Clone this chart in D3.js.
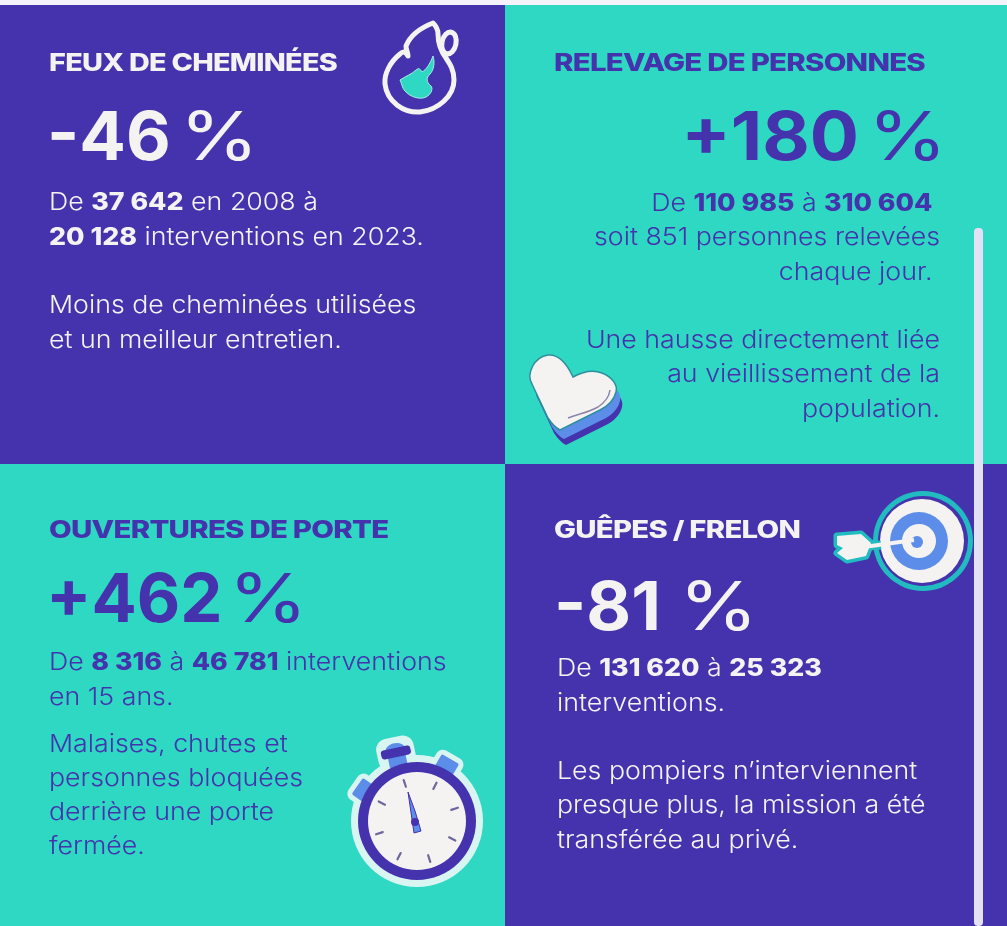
<!DOCTYPE html>
<html>
<head>
<meta charset="utf-8">
<script src="https://cdn.jsdelivr.net/npm/d3@7"></script>
<style>
  html, body { margin: 0; padding: 0; background: #f4f2fb; overflow: hidden; }
  svg { display: block; }
  text { font-family: Inter, "Open Sans", sans-serif; }
</style>
</head>
<body>
<div id="chart"></div>
<script>
const titles = ["FEUX DE CHEMINÉES", "RELEVAGE DE PERSONNES", "OUVERTURES DE PORTE", "GUÊPES / FRELON"];
const changes = [-46, 180, 462, -81];
// **x** = bold
const bodyLines = [
  ["De **37 642** en 2008 à", "**20 128** interventions en 2023.", "", "Moins de cheminées utilisées", "et un meilleur entretien."],
  ["De **110 985** à **310 604**\u00a0", "soit 851 personnes relevées", "chaque jour.\u00a0", "", "Une hausse directement liée", "au vieillissement de la", "population."],
  ["De **8 316** à **46 781** interventions", "en 15 ans.", "Malaises, chutes et", "personnes bloquées", "derrière une porte", "fermée."],
  ["De **131 620** à **25 323**", "interventions.", "", "Les pompiers n’interviennent", "presque plus, la mission a été", "transférée au privé."]
];

const purple = "#4531ad", teal = "#2fd8c3", paper = "#f5f3f2", blue = "#5b8de8", ring = "#22bcc0";
const width = 1007, height = 926;
const bodyScale = 1.115, pctScale = 1.2;

const svg = d3.select("#chart").append("svg")
  .attr("width", width).attr("height", height)
  .attr("viewBox", `0 0 ${width} ${height}`);

const defs = svg.append("defs");
defs.append("filter").attr("id", "soft").append("feGaussianBlur").attr("stdDeviation", 0.45);

const root = svg.append("g").attr("filter", "url(#soft)");

const layout = [
  {col: 0, row: 0, bg: purple, fg: paper, anchor: "start", x: 49, pctX: 47, gap: 9, numScale: 1.03, titleScale: 1.2, titleX: 49, titleY: 71, pctY: 160, bodyY: [210, 245, 279, 313, 348]},
  {col: 1, row: 0, bg: teal, fg: purple, anchor: "end", x: 940, pctX: 947, gap: 9, numScale: 1.09, titleScale: 1.225, titleX: 554, titleY: 71, pctY: 160, bodyY: [211, 245, 280, 314, 348, 382, 417]},
  {col: 0, row: 1, bg: teal, fg: purple, anchor: "start", x: 49, pctX: 46, gap: 6, numScale: 1.0, titleScale: 1.225, titleX: 49, titleY: 538, pctY: 622, bodyY: [670, 705, 752, 786, 820, 854]},
  {col: 1, row: 1, bg: purple, fg: paper, anchor: "start", x: 557, pctX: 554, gap: 18, numScale: 1.03, titleScale: 1.22, titleX: 554, titleY: 538, pctY: 630, bodyY: [676, 711, 745, 779, 813, 848]}
];

const xEdge = d3.scaleOrdinal().domain([0, 1, 2]).range([0, 505, width]);
const yEdge = d3.scaleOrdinal().domain([0, 1, 2]).range([5, 464, height]);

root.selectAll("rect.panel").data(layout).join("rect")
  .attr("class", "panel")
  .attr("x", d => xEdge(d.col)).attr("y", d => yEdge(d.row))
  .attr("width", d => xEdge(d.col + 1) - xEdge(d.col))
  .attr("height", d => yEdge(d.row + 1) - yEdge(d.row))
  .attr("fill", d => d.bg);

const fmtPct = v => (v < 0 ? "-" : "+") + Math.abs(v);

layout.forEach((p, i) => {
  const g = root.append("g");
  g.append("text").text(titles[i])
    .attr("transform", `translate(${p.titleX},${p.titleY}) scale(${p.titleScale},1)`)
    .attr("fill", p.fg)
    .style("font-size", "24px").style("font-weight", 800).style("letter-spacing", "-0.6px");

  // number and % are separate so the % can be stretched on its own
  const num = g.append("text").text(fmtPct(changes[i]))
    .attr("fill", p.fg).style("font-size", "67px").style("font-weight", 700);
  const sign = g.append("text").text("%")
    .attr("fill", p.fg).style("font-size", "67px").style("font-weight", 400);
  const numW = num.node().getComputedTextLength() * p.numScale;
  const signW = sign.node().getComputedTextLength() * pctScale;
  const left = p.anchor === "end" ? p.pctX - numW - p.gap - signW : p.pctX;
  num.attr("transform", `translate(${left},${p.pctY}) scale(${p.numScale},1)`);
  sign.attr("transform", `translate(${left + numW + p.gap},${p.pctY}) scale(${pctScale},1)`);

  bodyLines[i].forEach((line, j) => {
    if (!line) return;
    const t = g.append("text")
      .attr("transform", `translate(${p.x},${p.bodyY[j]}) scale(${bodyScale},1)`)
      .attr("text-anchor", p.anchor).attr("fill", p.fg)
      .style("font-size", "24px");
    line.split("**").forEach((part, k) => {
      t.append("tspan").text(part).style("font-weight", k % 2 ? 800 : 300);
    });
  });
});

// flame
const flame = root.append("g").attr("transform", "translate(370,0)");
flame.append("path")
  .attr("d", "M63 23 C50 28 40 36 36 46 C36 50 38 52 38 56 C35 51 33 51 30 54 C20 62 14 74 15 84 C17 102 34 113 50 112 C68 110 84 96 84 80 C84 70 80 64 76 58 C70 50 68 40 68 34 C68 30 66 26 63 23 Z")
  .attr("fill", "none").attr("stroke", paper).attr("stroke-width", 5).attr("stroke-linejoin", "round");
flame.append("ellipse").attr("cx", 79).attr("cy", 43).attr("rx", 7).attr("ry", 11)
  .attr("transform", "rotate(12 79 43)")
  .attr("fill", "none").attr("stroke", paper).attr("stroke-width", 5);
flame.append("path")
  .attr("d", "M63 56 C60 64 56 70 52 72 C50 68 48 68 46 70 C42 74 36 76 30 80 C32 84 32 88 35 91 C40 97 50 100 56 97 C62 94 63 88 61 86 C56 82 56 78 60 74 C64 70 65 62 63 56 Z")
  .attr("fill", teal).attr("stroke", "#a9ece6").attr("stroke-width", 1);

// heart
const heart = root.append("g").attr("transform", "translate(510,340)");
const heartPath = "M22 44 C16 34 24 17 38 15 C50 14 58 26 63 37 C72 32 82 29 92 33 C102 37 108 45 106 52 C104 60 98 66 90 70 L50 90 C46 88 42 84 38 78 Z";
heart.append("path").attr("d", heartPath).attr("transform", "translate(6,15)").attr("fill", purple);
heart.append("path").attr("d", heartPath).attr("transform", "translate(4,9)").attr("fill", blue);
heart.append("path").attr("d", heartPath)
  .attr("fill", paper).attr("stroke", "#2f8f9c").attr("stroke-width", 1.5);
heart.append("path").attr("d", "M58 78 C68 74 80 72 88 67 C94 63 99 58 100 50")
  .attr("fill", "none").attr("stroke", "#8c86a8").attr("stroke-width", 1.5);

// target
const target = root.append("g").attr("transform", "translate(819,480)");
[[104, 61, 50, ring], [104, 61, 45, purple], [103, 61, 42, paper], [100, 61, 29, blue], [100, 61, 17, paper], [98, 62, 6, blue]].forEach(([x, y, r, c]) => {
  target.append("circle").attr("cx", x).attr("cy", y).attr("r", r).attr("fill", c);
});
const fletch = "M18 56 L42 54 L52 63 L47 76 L28 80 L18 73 L24 68 L18 65 Z";
target.append("path").attr("d", fletch)
  .attr("fill", ring).attr("stroke", ring).attr("stroke-width", 7).attr("stroke-linejoin", "round");
target.append("line").attr("x1", 50).attr("y1", 66).attr("x2", 62).attr("y2", 65)
  .attr("stroke", ring).attr("stroke-width", 9);
target.append("path").attr("d", fletch).attr("fill", paper);
target.append("line").attr("x1", 45).attr("y1", 67).attr("x2", 95).attr("y2", 60)
  .attr("stroke", paper).attr("stroke-width", 4);

// stopwatch
const watch = root.append("g").attr("transform", "translate(417,821)");
watch.append("circle").attr("r", 66).attr("fill", "#d9f5f2");
const button = (g, x, y, a, fill, pad) => g.append("rect")
  .attr("x", -10 - pad).attr("y", -7 - pad).attr("width", 20 + 2 * pad).attr("height", 14 + 2 * pad).attr("rx", 2 + pad)
  .attr("transform", `translate(${x},${y}) rotate(${a})`).attr("fill", fill);
button(watch, -54, -31, -55, "#d9f5f2", 5);
button(watch, 30, -56, 30, "#d9f5f2", 5);
button(watch, -21, -68, -12, "#d9f5f2", 9);
button(watch, -54, -31, -55, blue, 0);
button(watch, 30, -56, 30, blue, 0);
watch.append("g").attr("transform", "translate(-21,-68) rotate(-12)").call(c => {
  c.append("rect").attr("x", -9).attr("y", 2).attr("width", 18).attr("height", 12).attr("fill", blue);
  c.append("path").attr("d", "M-10 -4 C-8 -12 8 -12 10 -4 Z").attr("fill", blue);
  c.append("rect").attr("x", -15).attr("y", -5).attr("width", 30).attr("height", 9).attr("rx", 3).attr("fill", purple);
});
watch.append("circle").attr("r", 59).attr("fill", purple);
watch.append("circle").attr("r", 49).attr("fill", paper);
d3.range(8).forEach(k => {
  watch.append("line")
    .attr("transform", `rotate(${k * 45 - 18})`)
    .attr("y1", -43).attr("y2", -36)
    .attr("stroke", "#6d679c").attr("stroke-width", 2.2).attr("stroke-linecap", "round");
});
watch.append("path").attr("d", "M-9 -29 L-2 -10 L4 10 L-3 12 Z").attr("fill", blue).attr("stroke", purple).attr("stroke-width", 1);
watch.append("circle").attr("cx", -2).attr("cy", 1).attr("r", 4).attr("fill", purple);

// scrollbar
root.append("rect").attr("x", 974).attr("y", 228).attr("width", 9).attr("height", height - 228)
  .attr("rx", 4).attr("fill", "#e4e0f5");
</script>
</body>
</html>
